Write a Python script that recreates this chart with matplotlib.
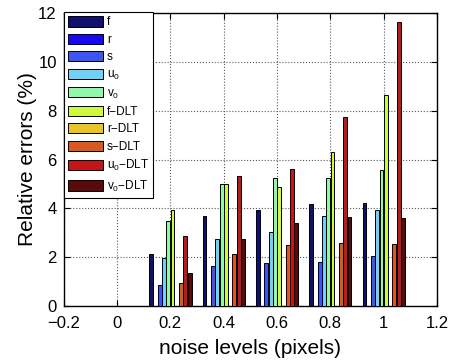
import numpy as np
import matplotlib
matplotlib.use("Agg")
import matplotlib.pyplot as plt

plt.rcParams['font.family'] = ['Liberation Sans', 'DejaVu Sans']
plt.rcParams['mathtext.fontset'] = 'custom'
plt.rcParams['mathtext.rm'] = 'Liberation Sans'

# niveles de ruido y errores relativos (%)
noise = [0.0, 0.2, 0.4, 0.6, 0.8, 1.0]
labels = ['f', 'r', 's', r'$\mathrm{u_0}$', r'$\mathrm{v_0}$',
          'f\u2212DLT', 'r\u2212DLT', 's\u2212DLT',
          r'$\mathrm{u_0}$' + '\u2212DLT', r'$\mathrm{v_0}$' + '\u2212DLT']
err_f = [0.01, 2.15, 3.69, 3.93, 4.18, 4.22]
err_r = [0.01, 0.0, 0.0, 0.0, 0.0, 0.0]
err_s = [0.01, 0.88, 1.65, 1.76, 1.80, 2.04]
err_u0 = [0.01, 1.97, 2.73, 3.05, 3.67, 3.95]
err_v0 = [0.01, 3.48, 5.00, 5.24, 5.25, 5.58]
err_f_dlt = [0.01, 3.95, 4.98, 4.86, 6.31, 8.64]
err_r_dlt = [0.01, 0.0, 0.0, 0.0, 0.0, 0.0]
err_s_dlt = [0.01, 0.95, 2.14, 2.48, 2.60, 2.52]
err_u0_dlt = [0.01, 2.86, 5.31, 5.61, 7.76, 11.63]
err_v0_dlt = [0.01, 1.36, 2.75, 3.38, 3.66, 3.62]
colors = ['#10106e', '#1a08ee', '#3d55f5', '#70d0f8', '#90f8a8',
          '#d0f840', '#e8c428', '#d85a20', '#c01818', '#5a0a0a']

series = [err_f, err_r, err_s, err_u0, err_v0,
          err_f_dlt, err_r_dlt, err_s_dlt, err_u0_dlt, err_v0_dlt]

fig = plt.figure(figsize=(4.59, 3.63), dpi=100)
ax = fig.add_axes([0.139, 0.157, 0.813, 0.807])

n = len(series)
step = 0.016
x = np.array(noise)
for i, vals in enumerate(series):
    ax.bar(x + (i - (n - 1) / 2) * step, vals, width=0.0145,
           color=colors[i], edgecolor='black', linewidth=0.7,
           label=labels[i], zorder=3)

ax.set_xlim(-0.2, 1.2)
ax.set_ylim(0, 12)
ax.set_xticks([-0.2, 0, 0.2, 0.4, 0.6, 0.8, 1.0, 1.2])
ax.set_xticklabels(['\u22120.2', '0', '0.2', '0.4', '0.6', '0.8', '1', '1.2'])
ax.set_yticks(range(0, 13, 2))
ax.tick_params(direction='in', top=True, right=True, labelsize=12, length=4)
ax.tick_params(axis='x', pad=7)
ax.tick_params(axis='y', pad=5)
ax.grid(True, linestyle=':', color='0.35', linewidth=0.8, zorder=0)
for s in ax.spines.values():
    s.set_linewidth(1.0)

ax.set_xlabel('noise levels (pixels)', fontsize=15, labelpad=6)
ax.set_ylabel('Relative errors (%)', fontsize=15, labelpad=1)

leg = ax.legend(loc='upper left', bbox_to_anchor=(0.0, 1.003), fontsize=8.5,
                handlelength=3.0, handleheight=0.95, labelspacing=0.45,
                handletextpad=0.3, borderpad=0.35, borderaxespad=0.0,
                fancybox=False, framealpha=1, edgecolor='black')
leg.get_frame().set_linewidth(0.8)

fig.savefig('out.png', dpi=100)
